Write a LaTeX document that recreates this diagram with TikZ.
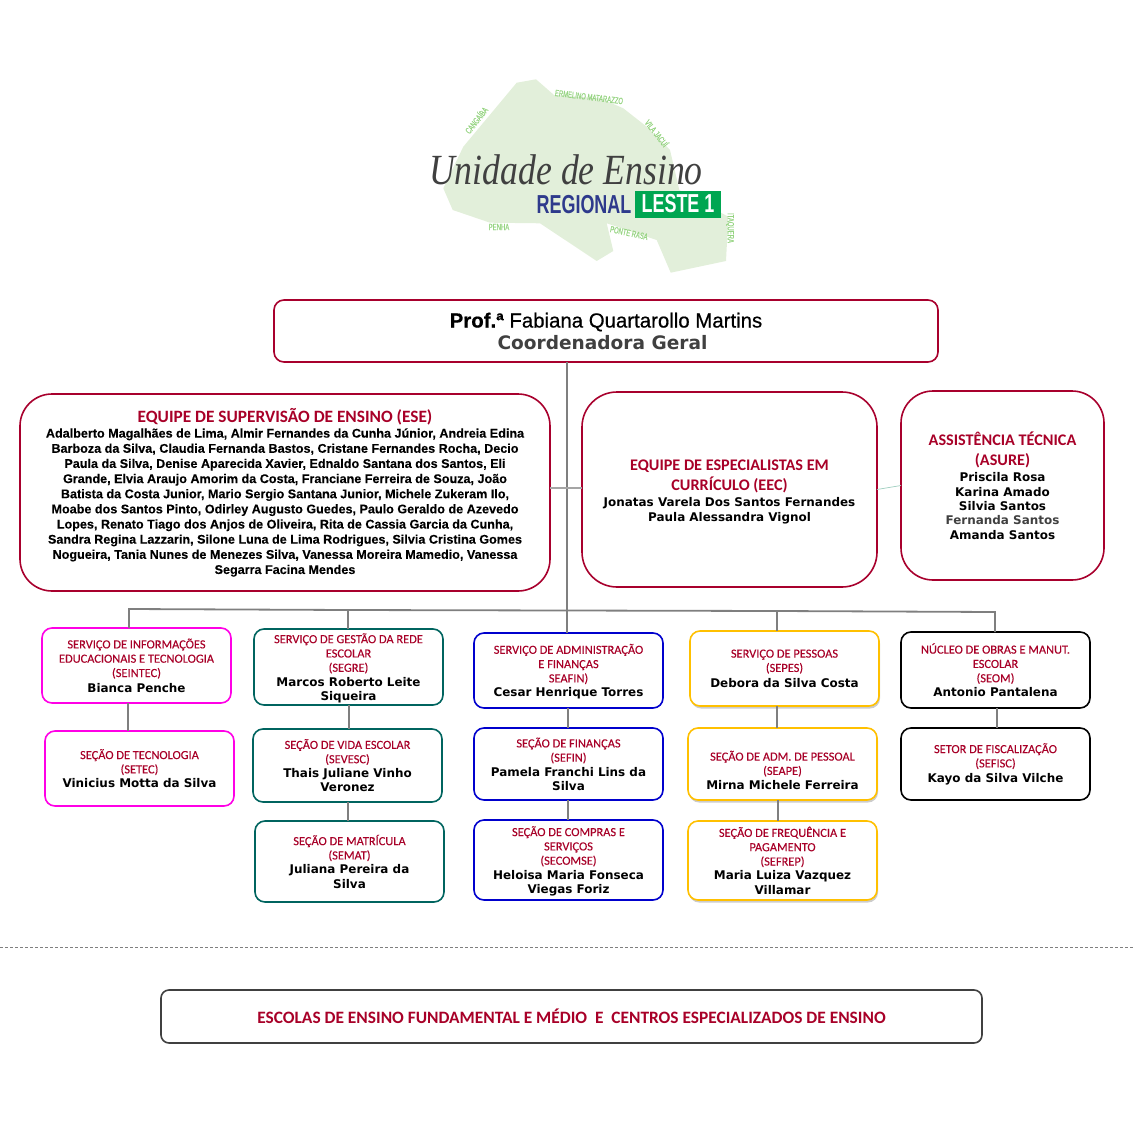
\documentclass[tikz,border=0pt]{standalone}
\usepackage{fontspec}
\usetikzlibrary{shadows}
\setmainfont{Liberation Sans}
\newfontfamily\headfont{Carlito}
\newfontfamily\unitfont{Carlito}[FakeBold=0.12]
\newfontfamily\namefont{DejaVu Sans}
\newfontfamily\teamfont{Liberation Sans}[FakeBold=0.1]
\newfontfamily\topfont{Liberation Sans}[FakeBold=0.6]
\newfontfamily\logoserif{Liberation Serif}[FakeStretch=0.83]
\newfontfamily\logosans{Liberation Sans}[FakeStretch=0.69]
\newfontfamily\placefont{Liberation Sans}[FakeStretch=0.66,FakeBold=0.3]
\definecolor{headred}{RGB}{168,0,40}
\definecolor{boxred}{RGB}{168,0,45}
\definecolor{linegray}{RGB}{127,127,127}
\definecolor{magentaline}{RGB}{255,0,230}
\definecolor{tealline}{RGB}{0,100,95}
\definecolor{blueline}{RGB}{0,0,205}
\definecolor{yellowline}{RGB}{255,192,0}
\definecolor{darkline}{RGB}{64,64,64}
\definecolor{logogreen}{RGB}{226,239,218}
\definecolor{labelgreen}{RGB}{150,212,130}
\definecolor{leste}{RGB}{0,166,81}
\definecolor{regional}{RGB}{46,58,140}
\newcommand{\nm}[1]{{\namefont\bfseries\fontsize{11.95}{14.3}\selectfont\color{black}#1}}
\newcommand{\ts}[1]{{\teamfont\fontsize{12.6}{15.15}\selectfont\color{black}#1}}

\begin{document}
\begin{tikzpicture}[
  x=1pt, y=-1pt,
  unitbox/.style={draw, line width=1.6pt, rounded corners=10pt, fill=white, minimum width=189pt,
    inner sep=0pt, outer sep=0pt, align=center, text=headred,
    font=\unitfont\fontsize{12.4}{14.3}\selectfont},
  teambox/.style={unitbox, draw=boxred, rounded corners=32pt, font=\headfont\bfseries\fontsize{16.2}{15.15}\selectfont},
  yellowbox/.style={unitbox, draw=yellowline, drop shadow={shadow xshift=1pt, shadow yshift=-2.5pt, opacity=.4}},
  link/.style={draw=linegray, line width=1.8pt},
  placename/.style={text=labelgreen, inner sep=0pt, font=\placefont\fontsize{9}{9}\selectfont}
]
\useasboundingbox (0,0) rectangle (1134,1134);

\fill[logogreen] (516.7,82.7) -- (536,79.3) -- (554,95) -- (600,98.3) -- (623.3,108.3) -- (646.7,126.7)
  -- (670,150) -- (679.3,190) -- (728.3,216.7) -- (726,261) -- (670.7,272.7) -- (656.7,240) -- (606.7,223.3)
  -- (613.3,251) -- (596.7,261) -- (540,223.3) -- (490,222.7) -- (452.7,210) -- (443.3,188.3) -- (463.3,146.7) -- cycle;
\node[placename, rotate=52] (cangaiba) at (476,120) {CANGAÍBA};
\node[placename, rotate=-7] (ermelino) at (589,97) {ERMELINO MATARAZZO};
\node[placename, rotate=-52] (vilajacui) at (657,133) {VILA JACUÍ};
\node[placename] (penha) at (499,227) {PENHA};
\node[placename, rotate=-12] (ponterasa) at (629,233) {PONTE RASA};
\node[placename, rotate=-90] (itaquera) at (730,228) {ITAQUERA};
\node[inner sep=0pt, text=darkline, font=\logoserif\itshape\fontsize{43}{43}\selectfont] (unidade) at (566,170) {Unidade de Ensino};
\node[inner sep=0pt, text=regional, font=\logosans\bfseries\fontsize{26}{26}\selectfont] (regionaltxt) at (584,205) {REGIONAL};
\node[fill=leste, text=white, minimum width=86pt, minimum height=27pt, inner sep=0pt, font=\logosans\bfseries\fontsize{26}{26}\selectfont] (leste1) at (678,204) {LESTE 1};

\node[unitbox, draw=boxred, minimum width=664pt, minimum height=62pt, text=black, font=\topfont\fontsize{20.4}{21.5}\selectfont] (coord) at (606,331)
  {\textbf{Prof.ª} Fabiana Quartarollo Martins\\\hspace*{-7pt}{\namefont\bfseries\fontsize{18.55}{21.5}\selectfont\color{darkline}Coordenadora Geral}};

\node[teambox, minimum width=530pt, minimum height=197pt, font=\headfont\bfseries\fontsize{17.3}{15.15}\selectfont] (ese) at (285,492.5) {\rule{0pt}{14pt}EQUIPE DE SUPERVISÃO DE ENSINO (ESE)\\
  \ts{Adalberto Magalhães de Lima, Almir Fernandes da Cunha Júnior, Andreia Edina}\\
  \ts{Barboza da Silva, Claudia Fernanda Bastos, Cristane Fernandes Rocha, Decio}\\
  \ts{Paula da Silva, Denise Aparecida Xavier, Ednaldo Santana dos Santos, Eli}\\
  \ts{Grande, Elvia Araujo Amorim da Costa, Franciane Ferreira de Souza, João}\\
  \ts{Batista da Costa Junior, Mario Sergio Santana Junior, Michele Zukeram Ilo,}\\
  \ts{Moabe dos Santos Pinto, Odirley Augusto Guedes, Paulo Geraldo de Azevedo}\\
  \ts{Lopes, Renato Tiago dos Anjos de Oliveira, Rita de Cassia Garcia da Cunha,}\\
  \ts{Sandra Regina Lazzarin, Silone Luna de Lima Rodrigues, Silvia Cristina Gomes}\\
  \ts{Nogueira, Tania Nunes de Menezes Silva, Vanessa Moreira Mamedio, Vanessa}\\
  \ts{Segarra Facina Mendes}};
\node[teambox, minimum width=295pt, minimum height=195pt, rounded corners=35pt] (eec) at (729.5,489.5)
  {\rule{0pt}{15pt}EQUIPE DE ESPECIALISTAS EM\\[4pt]CURRÍCULO (EEC)\\\nm{Jonatas Varela Dos Santos Fernandes}\\\nm{Paula Alessandra Vignol}};
\node[teambox, minimum width=203pt, minimum height=189pt, font=\headfont\bfseries\fontsize{16.2}{14.3}\selectfont] (asure) at (1002.5,485.5)
  {ASSISTÊNCIA TÉCNICA\\[5.5pt](ASURE)\\[2.5pt]\nm{Priscila Rosa}\\\nm{Karina Amado}\\\nm{Silvia Santos}\\{\namefont\bfseries\fontsize{11.95}{14.3}\selectfont\color{darkline}Fernanda Santos}\\\nm{Amanda Santos}};

\node[unitbox, draw=magentaline, minimum height=75pt] (seintec) at (136.5,665.5)
  {SERVIÇO DE INFORMAÇÕES\\EDUCACIONAIS E TECNOLOGIA\\(SEINTEC)\\[1pt]\nm{Bianca Penche}};
\node[unitbox, draw=magentaline, minimum height=75pt] (setec) at (139.5,768.5)
  {SEÇÃO DE TECNOLOGIA\\(SETEC)\\\nm{Vinicius Motta da Silva}};

\node[unitbox, draw=tealline, minimum height=76pt] (segre) at (348.5,667)
  {\rule{0pt}{12pt}SERVIÇO DE GESTÃO DA REDE\\ESCOLAR\\(SEGRE)\\\nm{Marcos Roberto Leite}\\\nm{Siqueira}};
\node[unitbox, draw=tealline, minimum height=73pt] (sevesc) at (347.5,765.5)
  {SEÇÃO DE VIDA ESCOLAR\\(SEVESC)\\\nm{Thais Juliane Vinho}\\\nm{Veronez}};
\node[unitbox, draw=tealline, minimum height=81pt] (semat) at (349.5,861.5)
  {SEÇÃO DE MATRÍCULA\\(SEMAT)\\\nm{Juliana Pereira da}\\\nm{Silva}};

\node[unitbox, draw=blueline, minimum height=75pt] (seafin) at (568.5,670.5)
  {\rule{0pt}{12pt}SERVIÇO DE ADMINISTRAÇÃO\\E FINANÇAS\\SEAFIN)\\\nm{Cesar Henrique Torres}};
\node[unitbox, draw=blueline, minimum height=72pt] (sefin) at (568.5,764)
  {SEÇÃO DE FINANÇAS\\(SEFIN)\\\nm{Pamela Franchi Lins da}\\\nm{Silva}};
\node[unitbox, draw=blueline, minimum height=80pt] (secomse) at (568.5,860)
  {\rule{0pt}{12pt}SEÇÃO DE COMPRAS E\\SERVIÇOS\\(SECOMSE)\\\nm{Heloisa Maria Fonseca}\\\nm{Viegas Foriz}};

\node[yellowbox, minimum height=75pt] (sepes) at (784.5,668.5)
  {SERVIÇO DE PESSOAS\\(SEPES)\\[1pt]\nm{Debora da Silva Costa}};
\node[yellowbox, minimum height=72pt] (seape) at (782.5,764)
  {\rule{0pt}{22pt}SEÇÃO DE ADM. DE PESSOAL\\(SEAPE)\\\nm{Mirna Michele Ferreira}};
\node[yellowbox, minimum height=79pt] (sefrep) at (782.5,860.5)
  {SEÇÃO DE FREQUÊNCIA E\\PAGAMENTO\\(SEFREP)\\\nm{Maria Luiza Vazquez}\\\nm{Villamar}};

\node[unitbox, draw=black, minimum height=76pt] (seom) at (995.5,670)
  {NÚCLEO DE OBRAS E MANUT.\\ESCOLAR\\(SEOM)\\\nm{Antonio Pantalena}};
\node[unitbox, draw=black, minimum height=72pt] (sefisc) at (995.5,764)
  {SETOR DE FISCALIZAÇÃO\\(SEFISC)\\[0.5pt]\nm{Kayo da Silva Vilche}};

\node[unitbox, draw=darkline, rounded corners=8pt, minimum width=821pt, minimum height=53pt,
  font=\headfont\bfseries\fontsize{17.37}{18}\selectfont] (escolas) at (571.5,1016.5)
  {ESCOLAS DE ENSINO FUNDAMENTAL E MÉDIO \ E \ CENTROS ESPECIALIZADOS DE ENSINO};

\coordinate (bus1) at (129,609);
\coordinate (bus2) at (348,610);
\coordinate (bus3) at (567,610.5);
\coordinate (bus4) at (777,611);
\coordinate (bus5) at (995,612);
\draw[link] (coord.south -| bus3) -- (bus3);
\draw[link] (seintec.north -| bus1) -- (bus1) -- (bus2) -- (bus3) -- (bus4) -- (bus5) -- (seom.north -| bus5);
\draw[link] (bus2) -- (segre.north -| bus2);
\draw[link] (bus3) -- (seafin.north -| bus3);
\draw[link] (bus4) -- (sepes.north -| bus4);
\coordinate (teamrow) at (567,488);
\draw[link, line width=1.4pt, draw=linegray!70] (ese.east |- teamrow) -- (eec.west |- teamrow);
\draw[draw=logogreen!70!teal, line width=0.7pt] (eec.east) -- (asure.west);
\foreach \upper/\lower/\x in {seintec/setec/128, segre/sevesc/349, sevesc/semat/348, seafin/sefin/568,
  sefin/secomse/568, sepes/seape/777, seape/sefrep/778, seom/sefisc/997}
  \draw[link] (\upper.south -| \x,0) -- (\lower.north -| \x,0);

\coordinate (dashl) at (0,947);
\coordinate (dashr) at (1134,947);
\draw[draw=linegray, line width=0.9pt, dash pattern=on 3pt off 2pt] (dashl) -- (dashr);
\end{tikzpicture}
\end{document}
